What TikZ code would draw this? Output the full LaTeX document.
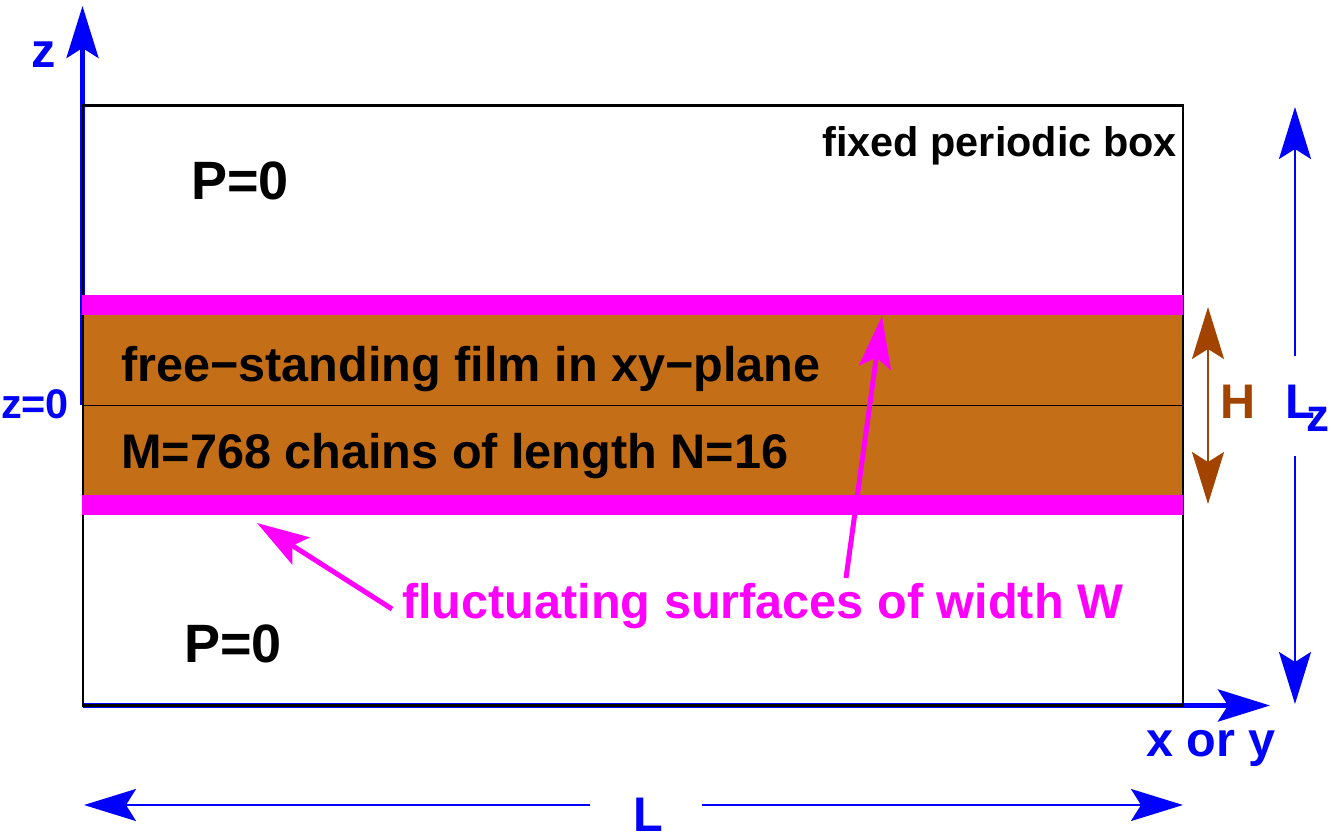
\documentclass[tikz,border=0pt]{standalone}
\usepackage{fontspec}
\usetikzlibrary{arrows.meta}
\setmainfont{Liberation Sans}
\definecolor{filmorange}{HTML}{C46E17}
\definecolor{filmbrown}{HTML}{A34300}
\definecolor{surfpink}{HTML}{FF00FF}
\def\bigfont{\bfseries\fontsize{54}{54}\selectfont}
\def\midfont{\bfseries\fontsize{48.6}{48.6}\selectfont}
\def\smallfont{\bfseries\fontsize{41.4}{41.4}\selectfont}
\def\dblue{\draw[blue,line width=2.2pt,-{Stealth[length=52pt,width=32pt,inset=10pt]}]}
\def\dpink{\draw[surfpink,line width=5pt,-{Stealth[length=52pt,width=32pt,inset=10pt]}]}
\tikzset{x=1pt,y=-1pt,inner sep=0pt,
  surface/.style={fill=surfpink,draw=none},
  bluelabel/.style={text=blue},
  pinklabel/.style={text=surfpink}}
\begin{document}
\begin{tikzpicture}
  \useasboundingbox (0,0) rectangle (1331,832);
  % axes
  \coordinate (zzeropt) at (82.5,405);
  \coordinate (origin) at (82.5,705.5);
  \coordinate (ztip) at (82.5,6);
  \coordinate (xtip) at (1270,705.5);
  \draw[blue,line width=4.4pt,-{Stealth[length=52pt,width=32pt,inset=10pt]}] (zzeropt) -- (ztip);
  \draw[blue,line width=5.5pt,-{Stealth[length=52pt,width=32pt,inset=10pt]}] (origin) -- (xtip);
  \draw[line width=2.6pt] (82.8,105.5) rectangle (1183,705.5);
  \fill[filmorange] (84,315) rectangle (1182,495);
  \draw[line width=1pt] (83,405) -- (1183,405);
  \fill[surface] (82,295) rectangle (1183,315);
  \fill[surface] (82,495) rectangle (1183,515);
  % labels
  \node[bluelabel,font=\midfont,anchor=base] (zlabel) at (44,68) {z};
  \node[bluelabel,font=\smallfont,anchor=base] (zzero) at (35,418) {z=0};
  \node[font=\smallfont,anchor=base east] (boxlabel) at (1177,157) {fixed periodic box};
  \node[font=\bigfont,anchor=base] (ptop) at (240,199) {P=0};
  \node[font=\bigfont,anchor=base] (pbottom) at (233,662) {P=0};
  \node[font=\midfont,anchor=base west] (filmtop) at (121,381) {free\textminus standing film in xy\textminus plane};
  \node[font=\midfont,anchor=base west] (filmbottom) at (121,468) {M=768 chains of length N=16};
  \node[pinklabel,font=\midfont,anchor=base west] (fluct) at (402,618) {fluctuating surfaces of width W};
  \node[font=\midfont,text=filmbrown,anchor=base] (hlabel) at (1238,418) {H};
  \node[bluelabel,font=\midfont,anchor=base west] (lzlabel) at (1285.5,418) {L\kern-8.5pt\raisebox{-13pt}{\fontsize{46}{46}\selectfont z}};
  \node[bluelabel,font=\midfont,anchor=base] (xylabel) at (1211,756) {x or y};
  \node[bluelabel,font=\midfont,anchor=base] (llabel) at (648,831) {L};
  % arrows
  \coordinate (htop) at (1208,307);
  \coordinate (hbottom) at (1208,504);
  \draw[filmbrown,line width=2.2pt,{Stealth[length=52pt,width=32pt,inset=10pt]}-{Stealth[length=52pt,width=32pt,inset=10pt]}] (htop) -- (hbottom);
  \coordinate (lzup) at (1295,356);
  \coordinate (lztop) at (1295,107);
  \coordinate (lzdown) at (1295,456);
  \coordinate (lzbottom) at (1295,704);
  \dblue (lzup) -- (lztop);
  \dblue (lzdown) -- (lzbottom);
  \coordinate (lleft) at (590,805);
  \coordinate (lstart) at (84,805);
  \coordinate (lright) at (702,805);
  \coordinate (lend) at (1183,805);
  \dblue (lleft) -- (lstart);
  \dblue (lright) -- (lend);
  \coordinate (pinkone) at (392,609);
  \coordinate (pinkonetip) at (257,523);
  \coordinate (pinktwo) at (846,578);
  \coordinate (pinktwotip) at (882,316);
  \dpink (pinkone) -- (pinkonetip);
  \dpink (pinktwo) -- (pinktwotip);
\end{tikzpicture}
\end{document}
